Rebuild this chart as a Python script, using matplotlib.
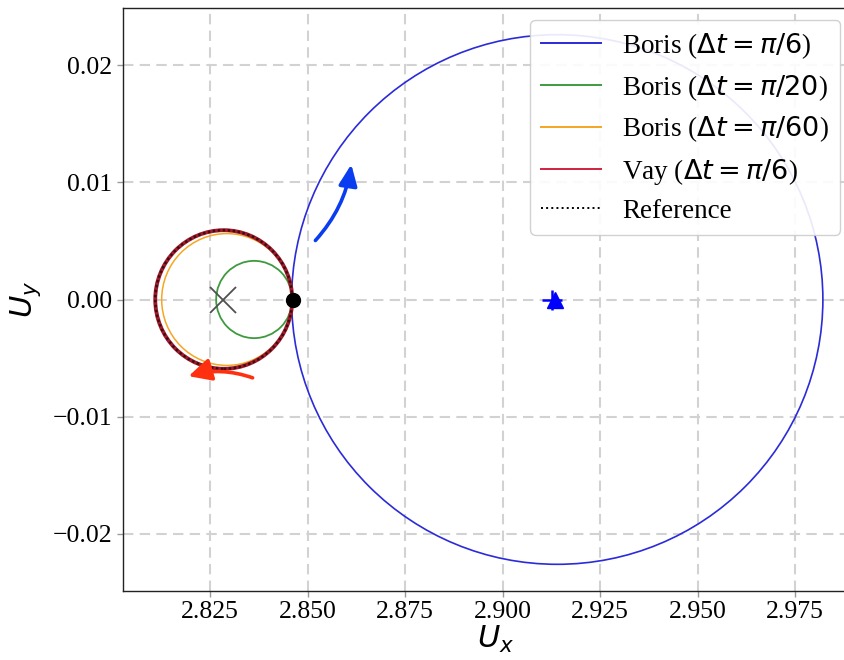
import matplotlib
matplotlib.use("Agg")
import matplotlib.pyplot as plt
from matplotlib.patches import Ellipse
from matplotlib.lines import Line2D

plt.rcParams['font.family'] = ['Liberation Serif', 'DejaVu Serif']
plt.rcParams['mathtext.fontset'] = 'dejavusans'

# ---- data ----
labels = [r"Boris ($\Delta t = \pi/6$)", r"Boris ($\Delta t = \pi/20$)",
          r"Boris ($\Delta t = \pi/60$)", r"Vay ($\Delta t = \pi/6$)", "Reference"]
center_x = [2.9140, 2.8363, 2.8293, 2.8285, 2.8285]
center_y = [0.0, 0.0, 0.0, 0.0, 0.0]
radius_x = [0.0681, 0.00974, 0.01671, 0.01756, 0.01756]
radius_y = [0.02262, 0.0033, 0.00563, 0.00592, 0.00592]
colors = ['#2b2bd9', '#3f9a3f', '#f5a623', '#a01c2c', 'black']
legend_colors = ['#2b2bd9', '#3f9a3f', '#f5a623', '#d0203f', 'black']
lws = [1.2, 1.3, 1.1, 2.8, 1.8]
styles = ['-', '-', '-', '-', (0, (1, 1))]

start_point = (2.8462, 0.0)
ref_center = (2.8284, 0.0)
blue_plus = (2.9126, 0.0)
blue_tri = (2.9134, 0.0)
blue_arrow = ((2.8520, 0.00504), (2.8612, 0.01154))
red_arrow = ((2.8359, -0.00669), (2.8195, -0.00655))

xticks = [2.825, 2.850, 2.875, 2.900, 2.925, 2.950, 2.975]
yticks = [-0.02, -0.01, 0.0, 0.01, 0.02]

# ---- figure ----
fig = plt.figure(figsize=(8.44, 6.6), dpi=100)
ax = fig.add_axes([122.7 / 844, 69 / 660, 731 / 844, 583 / 660])
ax.set_xlim(2.8026, 2.9900)
ax.set_ylim(-0.0249, 0.0249)

ax.grid(True, linestyle=(0, (5, 3)), color='#d2d2d2', linewidth=1.5, zorder=0)
ax.set_axisbelow(True)

handles = []
for lab, cx, cy, rx, ry, c, lc, lw, ls in zip(labels, center_x, center_y,
                                               radius_x, radius_y, colors,
                                               legend_colors, lws, styles):
    e = Ellipse((cx, cy), 2 * rx, 2 * ry, fill=False, edgecolor=c,
                linewidth=lw, linestyle=ls, zorder=3,
                alpha=0.6 if lc == 'black' else 1)
    ax.add_patch(e)
    handles.append(Line2D([], [], color=lc, lw=1.4,
                          linestyle=':' if lc == 'black' else '-', label=lab))

ax.plot(*ref_center, marker='x', markersize=19, color='#505050', mew=1.3,
        linestyle='none', zorder=4)
ax.plot(*start_point, marker='o', markersize=10, color='black',
        linestyle='none', zorder=6)
ax.plot(*blue_plus, marker='+', markersize=15, color='blue', mew=1.8,
        linestyle='none', zorder=5)
ax.plot(*blue_tri, marker='^', markersize=11, color='blue',
        linestyle='none', zorder=5)

ax.annotate('', xy=blue_arrow[1], xytext=blue_arrow[0],
            arrowprops=dict(arrowstyle='-|>,head_length=0.8,head_width=0.35',
                            color='#0a3cf0', lw=2.6,
                            connectionstyle='arc3,rad=0.15',
                            shrinkA=0, shrinkB=0, mutation_scale=16),
            zorder=5)
ax.annotate('', xy=red_arrow[1], xytext=red_arrow[0],
            arrowprops=dict(arrowstyle='-|>,head_length=0.8,head_width=0.4',
                            color='#ff3010', lw=2.6,
                            connectionstyle='arc3,rad=0.16',
                            shrinkA=0, shrinkB=0, mutation_scale=17),
            zorder=5)

ax.set_xticks(xticks)
ax.set_xticklabels([f"{v:.3f}" for v in xticks])
ax.set_yticks(yticks)
ax.set_yticklabels([f"{v:.2f}".replace('-', '\u2212') for v in yticks])
ax.tick_params(axis='both', labelsize=18.5, color='#999999', length=4, width=1)

for s in ax.spines.values():
    s.set_color('#222222')
    s.set_linewidth(1.0)

ax.set_xlabel(r'$U_x$', fontsize=22)
ax.set_ylabel(r'$U_y$', fontsize=22)
ax.xaxis.set_label_coords((496 - 122.7) / 731, (591 - 624) / 583)
ax.yaxis.set_label_coords((43 - 122.7) / 731, 0.5)

leg = fig.legend(handles=handles, loc='upper right',
                 bbox_to_anchor=(840 / 844, 1 - 20 / 660),
                 bbox_transform=fig.transFigure, borderaxespad=0,
                 fontsize=19.5, handlelength=2.2, labelspacing=0.45,
                 framealpha=0.9, edgecolor='#cccccc', fancybox=True, shadow=False)

fig.savefig('out.png', dpi=100)
